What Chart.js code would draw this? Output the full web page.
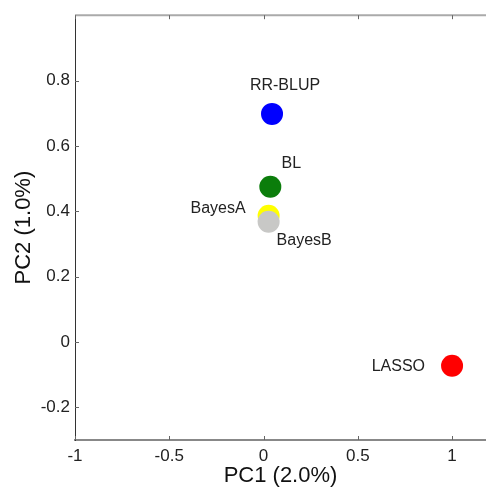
<!DOCTYPE html>
<html>
<head>
<meta charset="utf-8">
<script src="https://cdn.jsdelivr.net/npm/chart.js@4/dist/chart.umd.min.js"></script>
<style>
    html, body { margin: 0; padding: 0; background: #fff; overflow: hidden; }
    #pcaChart { display: block; }
</style>
</head>
<body>
<canvas id="pcaChart" width="486" height="489"></canvas>
<script>
const methods = ['RR-BLUP', 'BL', 'BayesA', 'BayesB', 'LASSO'];
const pc1Values = [0.045, 0.036, 0.027, 0.027, 1.0];
const pc2Values = [0.698, 0.475, 0.386, 0.368, -0.073];
const xTicks = [-1, -0.5, 0, 0.5, 1];
const yTicks = [-0.2, 0, 0.2, 0.4, 0.6, 0.8];

const pointColors = ['#0000ff', '#0b7d0b', '#ffff00', '#c8c8c6', '#ff0000'];
const FONT = '"Liberation Sans", Arial, sans-serif';

// where each method name sits relative to its dot
const labelPlacement = {
    'RR-BLUP': { dx: 13, dy: -28, align: 'center' },
    'BL': { dx: 21, dy: -23, align: 'center' },
    'BayesA': { dx: -23, dy: -7, align: 'right' },
    'BayesB': { dx: 8, dy: 19, align: 'left' },
    'LASSO': { dx: -27, dy: 1, align: 'right' }
};

const pointLabels = {
    id: 'pointLabels',
    afterDatasetsDraw(chart) {
        const { ctx } = chart;
        const meta = chart.getDatasetMeta(0);
        ctx.save();
        ctx.font = '16px ' + FONT;
        ctx.fillStyle = '#222';
        ctx.textBaseline = 'middle';
        meta.data.forEach((pt, i) => {
            const p = labelPlacement[methods[i]];
            ctx.textAlign = p.align;
            ctx.fillText(methods[i], pt.x + p.dx, pt.y + p.dy);
        });
        ctx.restore();
    }
};

// MATLAB style frame: top line plus short inward tick marks
const innerTicks = {
    id: 'innerTicks',
    afterDraw(chart) {
        const { ctx, chartArea: area } = chart;
        const xs = chart.scales.x;
        const ys = chart.scales.y;
        ctx.save();
        ctx.strokeStyle = '#aaa';
        ctx.lineWidth = 2;
        ctx.beginPath();
        ctx.moveTo(area.left, area.top);
        ctx.lineTo(area.right, area.top);
        ctx.stroke();

        ctx.strokeStyle = '#666';
        ctx.lineWidth = 1;
        ctx.beginPath();
        xTicks.forEach(v => {
            const px = Math.round(xs.getPixelForValue(v)) + 0.5;
            ctx.moveTo(px, area.bottom);
            ctx.lineTo(px, area.bottom - 4);
            ctx.moveTo(px, area.top);
            ctx.lineTo(px, area.top + 4);
        });
        yTicks.forEach(v => {
            const py = Math.round(ys.getPixelForValue(v)) + 0.5;
            ctx.moveTo(area.left, py);
            ctx.lineTo(area.left + 4, py);
        });
        ctx.stroke();
        ctx.restore();
    }
};

function renderChart() {
    const ctx = document.getElementById('pcaChart').getContext('2d');

    new Chart(ctx, {
        type: 'scatter',
        data: {
            datasets: [{
                data: methods.map((m, i) => ({ x: pc1Values[i], y: pc2Values[i] })),
                backgroundColor: pointColors,
                borderWidth: 0,
                pointRadius: 11,
                pointHoverRadius: 11
            }]
        },
        options: {
            responsive: false,
            animation: false,
            events: [],
            layout: {
                autoPadding: false,
                padding: { top: 14, right: 0, bottom: 0, left: 0 }
            },
            plugins: {
                legend: { display: false },
                tooltip: { enabled: false }
            },
            scales: {
                x: {
                    type: 'linear',
                    min: -1,
                    max: 1.18,
                    afterBuildTicks: scale => { scale.ticks = xTicks.map(v => ({ value: v })); },
                    afterFit: scale => {
                        scale.height = 49;
                        scale.paddingLeft = 0;
                        scale.paddingRight = 0;
                    },
                    grid: { display: false, drawTicks: false },
                    border: { color: '#888', width: 2 },
                    ticks: {
                        padding: 6,
                        maxRotation: 0,
                        color: '#222',
                        font: { family: FONT, size: 17 },
                        callback: value => String(value)
                    },
                    title: {
                        display: true,
                        text: 'PC1 (2.0%)',
                        color: '#111',
                        padding: { top: 0, bottom: 0 },
                        font: { family: FONT, size: 22 }
                    }
                },
                y: {
                    type: 'linear',
                    min: -0.3,
                    max: 1.0,
                    afterBuildTicks: scale => { scale.ticks = yTicks.map(v => ({ value: v })); },
                    afterFit: scale => { scale.width = 75; },
                    grid: { display: false, drawTicks: false },
                    border: { color: '#333', width: 1 },
                    ticks: {
                        padding: 5,
                        color: '#222',
                        font: { family: FONT, size: 17 },
                        callback: value => String(value)
                    },
                    title: {
                        display: true,
                        text: 'PC2 (1.0%)',
                        color: '#111',
                        padding: { top: 11, bottom: 0 },
                        font: { family: FONT, size: 22 }
                    }
                }
            }
        },
        plugins: [pointLabels, innerTicks]
    });
}

document.addEventListener('DOMContentLoaded', renderChart);
</script>
</body>
</html>
